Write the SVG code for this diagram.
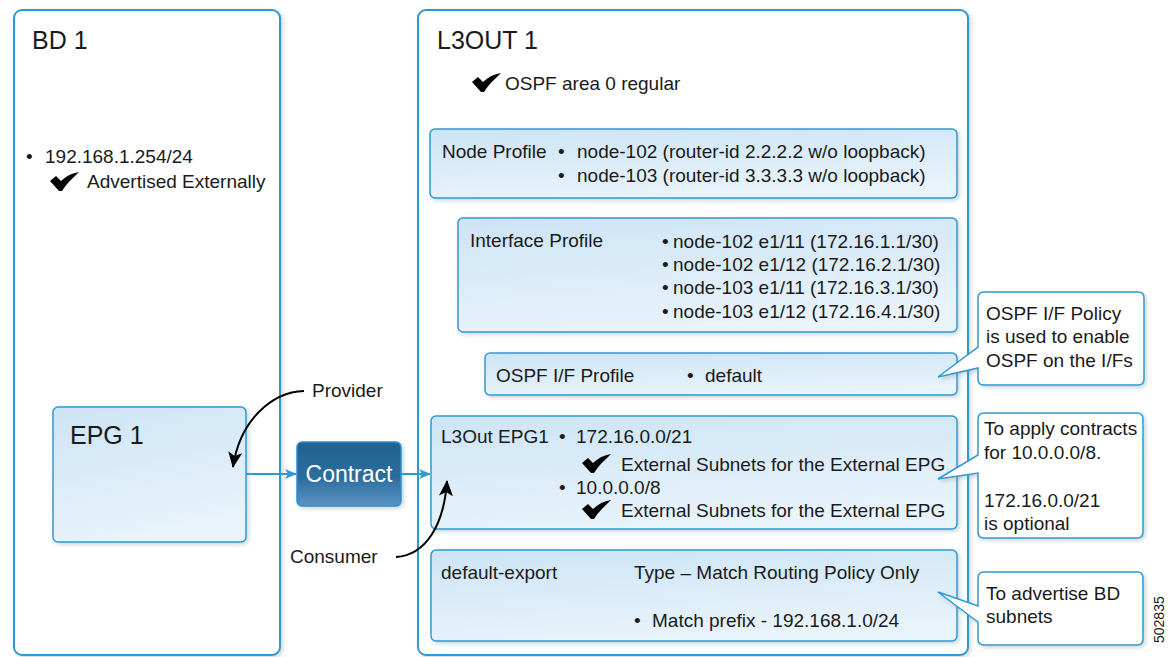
<svg xmlns="http://www.w3.org/2000/svg" width="1172" height="657" viewBox="0 0 1172 657">
<style>
text{font-family:"Liberation Sans",Arial,sans-serif;fill:#1a1a1a;font-size:19px}
.title{font-size:25px}
.outer{fill:#ffffff;stroke:#2e9ad4;stroke-width:2}
.inner{fill:url(#gInner);stroke:#2e9ad4;stroke-width:1.5}
.callout{fill:#ffffff;stroke:#2e9ad4;stroke-width:1.5}
.blue{stroke:#2e9ad4;stroke-width:2;fill:none}
.black{stroke:#000;stroke-width:2;fill:none}
</style>
<defs>
<linearGradient id="gInner" x1="0" y1="0" x2="0.3" y2="1">
<stop offset="0" stop-color="#cde4f5"/>
<stop offset="1" stop-color="#e8f3fb"/>
</linearGradient>
<linearGradient id="gContract" x1="0" y1="0" x2="0" y2="1">
<stop offset="0" stop-color="#21628f"/>
<stop offset="0.55" stop-color="#2c6d9e"/>
<stop offset="1" stop-color="#5b95c4"/>
</linearGradient>
<filter id="sh" x="-5%" y="-5%" width="115%" height="115%">
<feDropShadow dx="2" dy="2" stdDeviation="2" flood-color="#6a8a9a" flood-opacity="0.35"/>
</filter>
<marker id="mBlue" markerWidth="12" markerHeight="10" refX="11" refY="5" orient="auto" markerUnits="userSpaceOnUse">
<path d="M0,0 L12,5 L0,10 L3,5 Z" fill="#2e9ad4"/>
</marker>
<marker id="mBlack" markerWidth="16" markerHeight="14" refX="15" refY="7" orient="auto" markerUnits="userSpaceOnUse">
<path d="M0,0 L16,7 L0,14 L4,7 Z" fill="#000"/>
</marker>
<path id="tick" d="M0,9 L6,4 L11,9 C16,4 22,1 29,0 C23,6 17,11 12,19 L9,19 Z" fill="#000"/>
</defs>

<g id="bd1">
<rect class="outer" x="14" y="10" width="266" height="645" rx="8" filter="url(#sh)"/>
<text class="title" x="32" y="49">BD 1</text>
<text x="26" y="163">•</text>
<text x="45" y="163">192.168.1.254/24</text>
<use href="#tick" x="50" y="172"/>
<text x="87" y="188">Advertised Externally</text>
</g>

<g id="epg1">
<rect class="inner" x="53" y="407" width="193" height="135" rx="5" filter="url(#sh)"/>
<text class="title" x="70" y="444">EPG 1</text>
</g>

<g id="l3out1">
<rect class="outer" x="418" y="10" width="550" height="645" rx="8" filter="url(#sh)"/>
<text class="title" x="437" y="49">L3OUT 1</text>
<use href="#tick" x="472" y="73"/>
<text x="505" y="90">OSPF area 0 regular</text>
</g>

<g id="node-profile">
<rect class="inner" x="430" y="129" width="527" height="69" rx="5" filter="url(#sh)"/>
<text x="442" y="158">Node Profile</text>
<text x="558" y="158">•</text>
<text x="577" y="158">node-102 (router-id 2.2.2.2 w/o loopback)</text>
<text x="558" y="182">•</text>
<text x="577" y="182">node-103 (router-id 3.3.3.3 w/o loopback)</text>
</g>

<g id="interface-profile">
<rect class="inner" x="458" y="218" width="499" height="114" rx="5" filter="url(#sh)"/>
<text x="470" y="247">Interface Profile</text>
<text x="662" y="248">•</text>
<text x="673" y="248">node-102 e1/11 (172.16.1.1/30)</text>
<text x="662" y="271">•</text>
<text x="673" y="271">node-102 e1/12 (172.16.2.1/30)</text>
<text x="662" y="294">•</text>
<text x="673" y="294">node-103 e1/11 (172.16.3.1/30)</text>
<text x="662" y="318">•</text>
<text x="673" y="318">node-103 e1/12 (172.16.4.1/30)</text>
</g>

<g id="ospf-if-profile">
<rect class="inner" x="485" y="353" width="472" height="42" rx="5" filter="url(#sh)"/>
<text x="496" y="382">OSPF I/F Profile</text>
<text x="687" y="382">•</text>
<text x="705" y="382">default</text>
</g>

<g id="l3out-epg1">
<rect class="inner" x="431" y="416" width="526" height="113" rx="5" filter="url(#sh)"/>
<text x="441" y="443">L3Out EPG1</text>
<text x="559" y="443">•</text>
<text x="576" y="443">172.16.0.0/21</text>
<use href="#tick" x="582" y="454"/>
<text x="621" y="471">External Subnets for the External EPG</text>
<text x="559" y="494">•</text>
<text x="576" y="494">10.0.0.0/8</text>
<use href="#tick" x="582" y="500"/>
<text x="621" y="517">External Subnets for the External EPG</text>
</g>

<g id="default-export">
<rect class="inner" x="431" y="550" width="526" height="91" rx="5" filter="url(#sh)"/>
<text x="441" y="579">default-export</text>
<text x="634" y="579">Type – Match Routing Policy Only</text>
<text x="634" y="627">•</text>
<text x="652" y="627">Match prefix - 192.168.1.0/24</text>
</g>

<g id="contract">
<rect x="297" y="442" width="104" height="64" rx="5" fill="url(#gContract)" stroke="#2e8fd0" stroke-width="1.5" filter="url(#sh)"/>
<text x="349" y="482" text-anchor="middle" style="fill:#ffffff;font-size:23px">Contract</text>
</g>

<g id="labels">
<text x="312" y="397">Provider</text>
<text x="290" y="563">Consumer</text>
</g>

<g id="callout-ospf">
<path class="callout" filter="url(#sh)" d="M984,292 H1138 Q1144,292 1144,298 V379 Q1144,385 1138,385 H984 Q978,385 978,379 V368 L938,377 L978,347 V298 Q978,292 984,292 Z"/>
<text x="986" y="320">OSPF I/F Policy</text>
<text x="986" y="343">is used to enable</text>
<text x="986" y="367">OSPF on the I/Fs</text>
</g>

<g id="callout-contracts">
<path class="callout" filter="url(#sh)" d="M984,413 H1137 Q1143,413 1143,419 V532 Q1143,538 1137,538 H984 Q978,538 978,532 V473 L938,479 L978,455 V419 Q978,413 984,413 Z"/>
<text x="984" y="435">To apply contracts</text>
<text x="984" y="459">for 10.0.0.0/8.</text>
<text x="984" y="507">172.16.0.0/21</text>
<text x="984" y="530">is optional</text>
</g>

<g id="callout-advertise">
<path class="callout" filter="url(#sh)" d="M984,572 H1137 Q1143,572 1143,578 V639 Q1143,645 1137,645 H984 Q978,645 978,639 V622 L938,592 L978,606 V578 Q978,572 984,572 Z"/>
<text x="986" y="600">To advertise BD</text>
<text x="986" y="623">subnets</text>
</g>

<g id="connectors">
<line class="blue" x1="246" y1="474" x2="296" y2="474" marker-end="url(#mBlue)"/>
<line class="blue" x1="401" y1="474" x2="430" y2="474" marker-end="url(#mBlue)"/>
<path class="black" d="M304,391 C272,392 240,420 233,467" marker-end="url(#mBlack)"/>
<path class="black" d="M396,557 C426,555 444,525 447,481" marker-end="url(#mBlack)"/>
</g>

<text x="1164" y="643" transform="rotate(-90 1164 643)" style="font-size:14px">502835</text>
</svg>
